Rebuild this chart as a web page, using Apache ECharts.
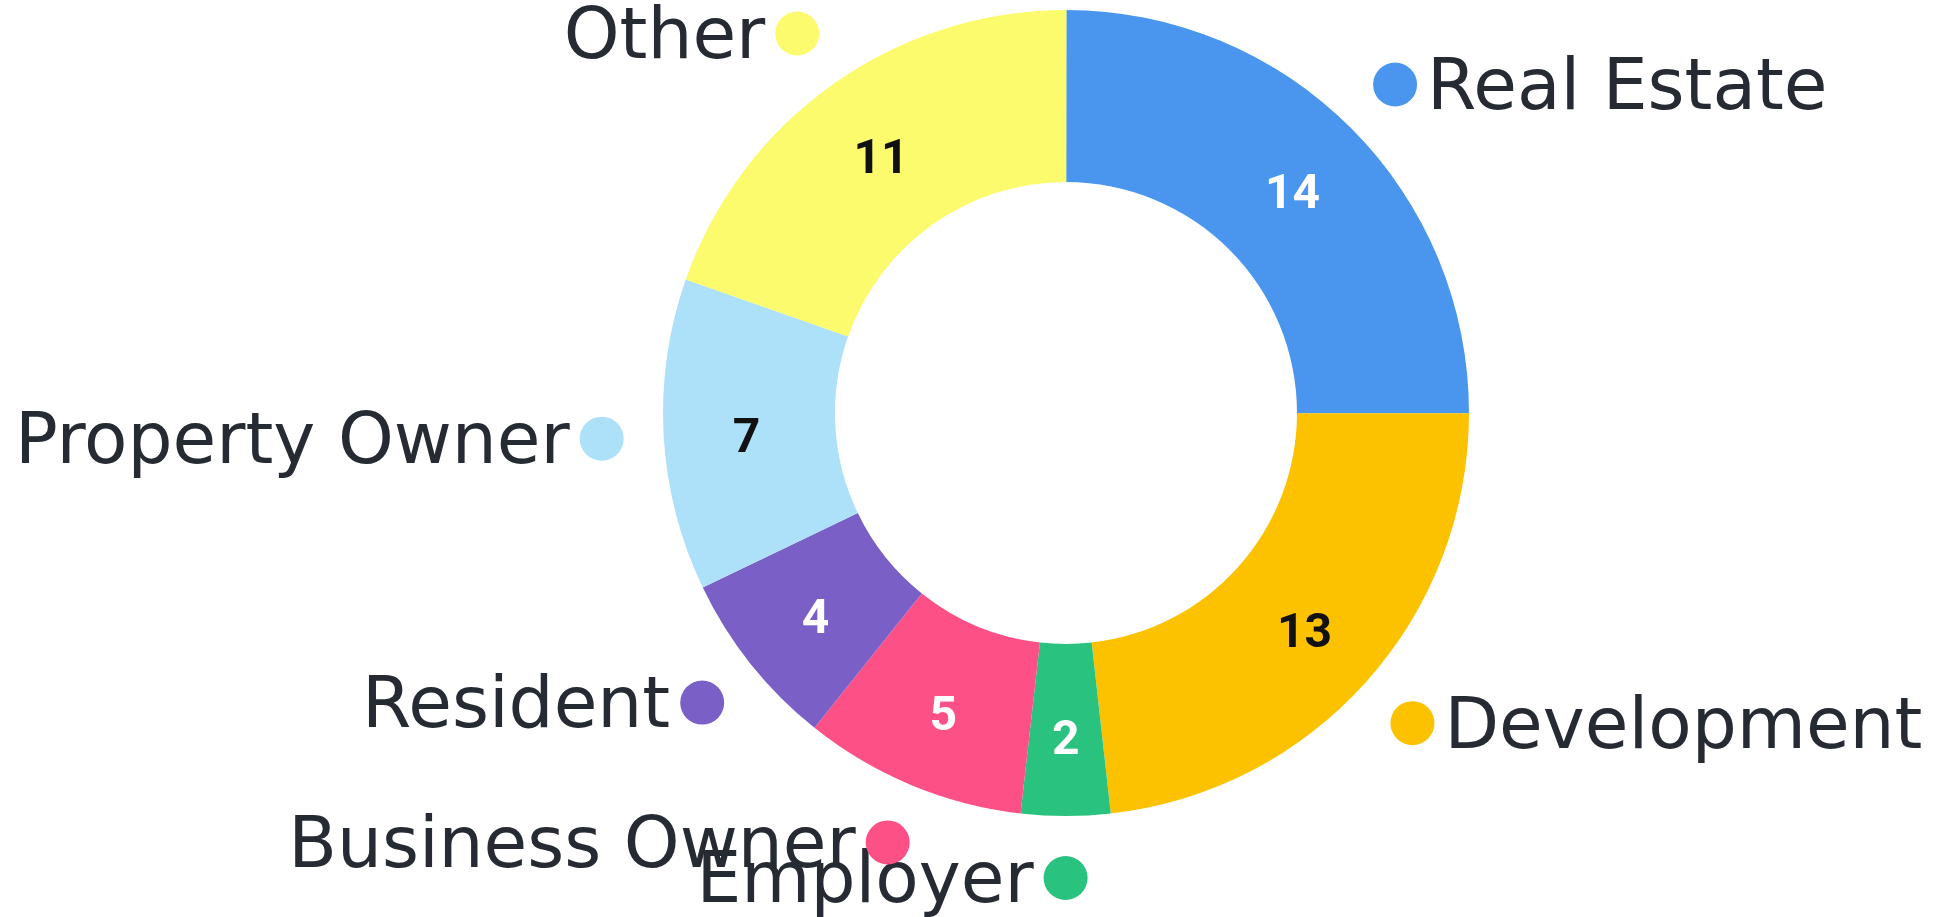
<!DOCTYPE html>
<html>
<head>
<meta charset="utf-8">
<script src="https://cdn.jsdelivr.net/npm/echarts@6/dist/echarts.min.js"></script>
<style>
  html, body { margin: 0; padding: 0; background: #fff; }
  #chart { width: 1939px; height: 917px; }
</style>
</head>
<body>
<div id="chart"></div>
<script>
  // 数据
  const categories = ['Real Estate', 'Development', 'Employer', 'Business Owner', 'Resident', 'Property Owner', 'Other'];
  const values = [14, 13, 2, 5, 4, 7, 11];

  // 颜色
  const sliceColors = ['#4a96ee', '#fcc200', '#29c27f', '#fc5087', '#7a5fc6', '#ade1f9', '#fbfb6d'];
  const valueColors = ['#ffffff', '#111111', '#ffffff', '#ffffff', '#ffffff', '#111111', '#111111'];

  const chart = echarts.init(document.getElementById('chart'));

  // 判断标签在左还是右（>=180° 视为左侧）
  const total = values.reduce((a, b) => a + b, 0);
  let acc = 0;
  const sides = values.map(v => {
    const mid = (acc + v / 2) / total * 360;
    acc += v;
    return mid >= 180 ? 'left' : 'right';
  });

  const nameData = categories.map((name, i) => ({
    name,
    value: values[i],
    itemStyle: { color: sliceColors[i] },
    label: {
      formatter: sides[i] === 'right' ? '{d' + i + '|}{n|{b}}' : '{m|{b}}{d' + i + '|}'
    }
  }));

  const textStyle = { fontSize: 71, color: '#262a33', fontFamily: 'DejaVu Sans' };
  const rich = {
    n: Object.assign({ padding: [12, 0, 0, 10] }, textStyle),
    m: Object.assign({ padding: [12, 10, 0, 0] }, textStyle)
  };
  sliceColors.forEach((c, i) => {
    rich['d' + i] = { width: 44, height: 44, borderRadius: 22, backgroundColor: c };
  });

  // 数值标签（环内）
  const valueData = categories.map((name, i) => ({
    name,
    value: values[i],
    label: { formatter: '{v' + i + '|{c}}' }
  }));
  const valueRich = {};
  valueColors.forEach((c, i) => {
    valueRich['v' + i] = {
      color: c,
      fontSize: 48,
      fontWeight: 'bold',
      fontFamily: 'Roboto',
      padding: [18, 0, 0, 0]
    };
  });

  chart.setOption({
    animation: false,
    series: [
      {
        type: 'pie',
        center: [1066, 413],
        radius: [231, 403],
        startAngle: 89.95,
        clockwise: true,
        avoidLabelOverlap: false,
        silent: true,
        label: {
          show: true,
          position: 'outside',
          distanceToLabelLine: -22,
          rich
        },
        labelLine: { show: false, length: 62, length2: 0 },
        labelLayout: { hideOverlap: false },
        data: nameData
      },
      {
        type: 'pie',
        center: [1066, 413],
        radius: [231, 403],
        startAngle: 89.95,
        clockwise: true,
        silent: true,
        itemStyle: { color: 'rgba(0,0,0,0)' },
        label: {
          show: true,
          position: 'inside',
          rich: valueRich
        },
        labelLine: { show: false },
        data: valueData
      }
    ]
  });
</script>
</body>
</html>
